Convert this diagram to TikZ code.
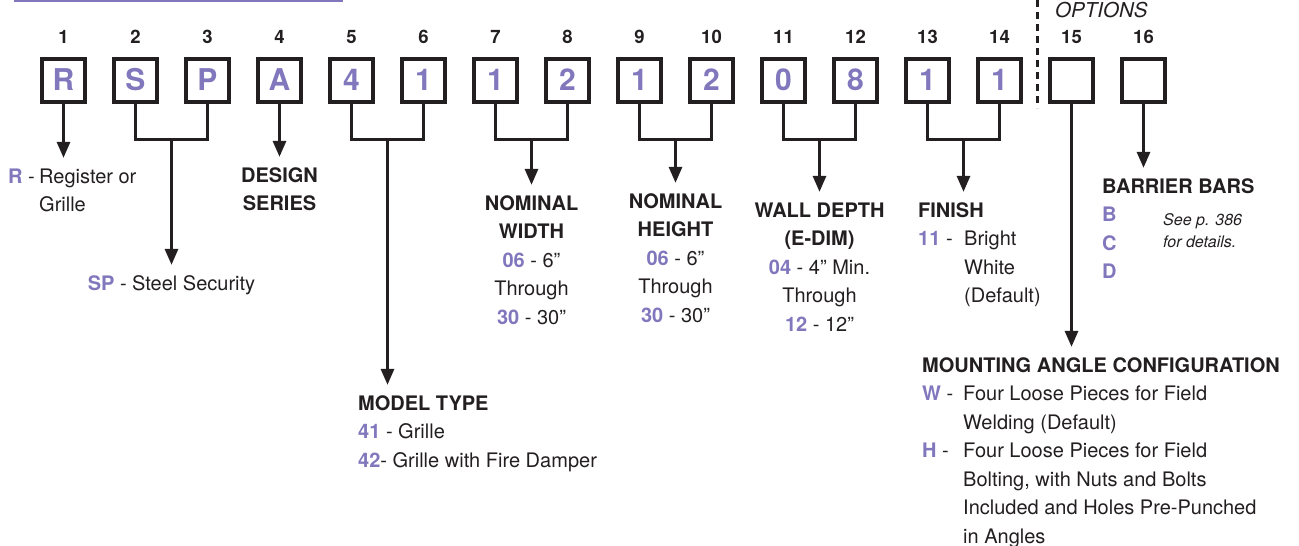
\documentclass[tikz,border=0pt]{standalone}
\usepackage{fontspec}
\setmainfont{TeX Gyre Heros}
\usetikzlibrary{arrows.meta,calc}

\definecolor{pur}{RGB}{129,119,189}
\definecolor{ink}{RGB}{35,31,32}
\newcommand\code[1]{\textcolor{pur}{\bfseries #1}}

\tikzset{
  digit/.style={draw=ink, line width=4pt, minimum size=43pt, inner sep=0pt,
    text=pur, font=\fontsize{30}{30}\selectfont\bfseries},
  posno/.style={inner sep=0pt, text=ink, font=\fontsize{18.5}{18.5}\selectfont\bfseries},
  conn/.style={draw=ink, line width=3pt},
  arr/.style={conn, -{Triangle[width=13pt,length=16pt]}, shorten >=5pt},
  desc/.style={inner sep=0pt, text=ink, font=\fontsize{20}{28.5}\selectfont},
  note/.style={inner sep=0pt, text=ink, font=\fontsize{16}{22}\selectfont\itshape},
}

\begin{document}
\begin{tikzpicture}[x=1pt,y=-1pt]
  \useasboundingbox (0,0) rectangle (1299,546);
  % heading rule, cut by the top edge
  \draw[pur, line width=1.6pt] (14,0.8) -- (343,0.8);

  % the sixteen positions
  \foreach \ch [count=\i] in {R,S,P,A,4,1,1,2,1,2,0,8,1,1,{},{}}{
    \node[digit] (b\i) at ({63.5+72*(\i-1)},80) {\ch};
    \node[posno, anchor=base] (n\i) at ({63.5+72*(\i-1)},43) {\i};
  }

  \draw[ink, line width=3pt, dash pattern=on 7pt off 5pt] (1037.5,0) -- (1037.5,108);
  \node[inner sep=0pt, text=ink, font=\fontsize{20.5}{20.5}\selectfont\itshape, anchor=base west] (opt) at (1055,17) {OPTIONS};

  % descriptions
  \node[desc, anchor=base west] (reg) at (8,183) {\begin{tabular}[t]{@{}p{31pt}@{}l@{}}
      \code{R} - & Register or\\
      & Grille
    \end{tabular}};
  \node[desc, anchor=base] (sp) at (171.5,290) {\begin{tabular}[t]{@{}c@{}}
      \code{SP} - Steel Security
    \end{tabular}};
  \node[desc, anchor=base] (design) at (279.5,182) {\bfseries\begin{tabular}[t]{@{}c@{}}
      DESIGN\\ SERIES
    \end{tabular}};
  \node[desc, anchor=base west] (model) at (358,410) {\begin{tabular}[t]{@{}l@{}}
      \bfseries MODEL TYPE\\
      \code{41} - Grille\\
      \code{42}- Grille with Fire Damper
    \end{tabular}};
  \node[desc, anchor=base] (width) at (531.5,210) {\begin{tabular}[t]{@{}c@{}}
      \bfseries NOMINAL\\ \bfseries WIDTH\\
      \code{06} - 6”\\ Through\\ \code{30} - 30”
    \end{tabular}};
  \node[desc, anchor=base] (height) at (675.5,208) {\begin{tabular}[t]{@{}c@{}}
      \bfseries NOMINAL\\ \bfseries HEIGHT\\
      \code{06} - 6”\\ Through\\ \code{30} - 30”
    \end{tabular}};
  \node[desc, anchor=base] (wall) at (819.5,217) {\begin{tabular}[t]{@{}c@{}}
      \bfseries WALL DEPTH\\ \bfseries (E-DIM)\\
      \code{04} - 4” Min.\\ Through\\ \code{12} - 12”
    \end{tabular}};
  \node[desc, anchor=base west] (finish) at (918,217) {\begin{tabular}[t]{@{}p{46pt}@{}l@{}}
      \multicolumn{2}{@{}l@{}}{\bfseries FINISH}\\
      \code{11} - & Bright\\
      & White\\
      & (Default)
    \end{tabular}};
  \node[desc, anchor=base west] (barrier) at (1102,193) {\begin{tabular}[t]{@{}l@{}}
      \bfseries BARRIER BARS\\ \code{B}\\ \code{C}\\ \code{D}
    \end{tabular}};
  \node[note, anchor=base west] (seep) at (1163,225) {\begin{tabular}[t]{@{}l@{}}
      See p. 386\\ for details.
    \end{tabular}};
  \node[desc, anchor=base west] (mount) at (922,372) {\begin{tabular}[t]{@{}p{41pt}@{}l@{}}
      \multicolumn{2}{@{}l@{}}{\bfseries MOUNTING ANGLE CONFIGURATION}\\
      \code{W} - & Four Loose Pieces for Field\\
      & Welding (Default)\\
      \code{H} - & Four Loose Pieces for Field\\
      & Bolting, with Nuts and Bolts\\
      & Included and Holes Pre-Punched\\
      & in Angles
    \end{tabular}};

  % paired positions join under the boxes
  \foreach \a/\b in {2/3,5/6,7/8,9/10,11/12,13/14}{
    \coordinate (j\a) at ($(b\a.south)!.5!(b\b.south)+(0,36)$);
    \draw[conn] (b\a.south) |- (j\a) -| (b\b.south);
  }

  % arrows
  \draw[arr] (b1.south) -- (b1.south |- reg.north);
  \draw[arr] (j2) -- (j2 |- sp.north);
  \draw[arr] (b4.south) -- (b4.south |- design.north);
  \draw[arr] (j5) -- (j5 |- model.north);
  \draw[arr] (j7) -- (j7 |- width.north);
  \draw[arr] (j9) -- (j9 |- height.north);
  \draw[arr] (j11) -- (j11 |- wall.north);
  \draw[arr] (j13) -- (j13 |- finish.north);
  \draw[arr] (b15.south) -- (b15.south |- mount.north);
  \draw[arr] (b16.south) -- (b16.south |- barrier.north);
\end{tikzpicture}
\end{document}
